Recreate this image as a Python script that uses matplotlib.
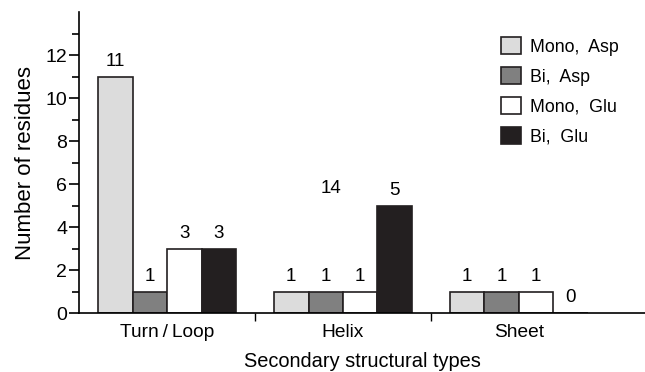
import numpy as np
import matplotlib
matplotlib.use("Agg")
import matplotlib.pyplot as plt
from matplotlib.ticker import FixedLocator

plt.rcParams["font.family"] = ["Liberation Sans", "DejaVu Sans"]

categories = ["Turn\u2009/\u2009Loop", "Helix", "Sheet"]
series_names = ["Mono,  Asp", "Bi,  Asp", "Mono,  Glu", "Bi,  Glu"]
mono_asp = [11, 1, 1]
bi_asp = [1, 1, 1]
mono_glu = [3, 1, 1]
bi_glu = [3, 5, 0]
colors = ["#dcdcdc", "#808080", "#ffffff", "#231f20"]

series = [mono_asp, bi_asp, mono_glu, bi_glu]

fig = plt.figure(figsize=(6.45, 3.72), dpi=100)
ax = fig.add_axes([0.1225, 0.1586, 0.8775, 0.809])

x = np.arange(len(categories))
width = 0.196
for i, (vals, name, c) in enumerate(zip(series, series_names, colors)):
    pos = x + (i - 1.5) * width
    ax.bar(pos, vals, width, color=c, edgecolor="#231f20", linewidth=1.2,
           label=name, zorder=2)
    for px, v in zip(pos, vals):
        ax.annotate(str(v), (px, v), xytext=(0, 5), textcoords="offset points",
                    ha="center", va="bottom", fontsize=13.5)

# stray total label above helix group
ax.text(0.93, 5.8, "14", ha="center", va="center", fontsize=13.5)

ax.set_xlim(-0.5, 2.716)
ax.set_ylim(0, 14)
ax.yaxis.set_major_locator(FixedLocator([0, 2, 4, 6, 8, 10, 12]))
ax.yaxis.set_minor_locator(FixedLocator([1, 3, 5, 7, 9, 11, 13]))
ax.set_xticks(x)
ax.set_xticklabels(categories, fontsize=13.8)
ax.xaxis.set_minor_locator(FixedLocator([0.5, 1.5]))
ax.tick_params(axis="x", which="major", length=0, pad=8)
ax.tick_params(axis="x", which="minor", length=6, width=1, direction="out")
ax.tick_params(axis="y", which="major", length=7.5, width=1.2, labelsize=14, pad=1)
ax.tick_params(axis="y", which="minor", length=5, width=1.2)

for s in ["top", "right"]:
    ax.spines[s].set_visible(False)
for s in ["left", "bottom"]:
    ax.spines[s].set_linewidth(1.2)

ax.set_ylabel("Number of residues", fontsize=16, labelpad=7)
ax.set_xlabel("Secondary structural types", fontsize=14.4, labelpad=7.5)

ax.legend(loc="upper left", bbox_to_anchor=(0.777, 0.901),
          bbox_transform=fig.transFigure, frameon=False, borderpad=0,
          borderaxespad=0, fontsize=12.8, handlelength=1.12, handleheight=1.12,
          handletextpad=0.5, labelspacing=0.64)

fig.savefig("out.png", dpi=100)
